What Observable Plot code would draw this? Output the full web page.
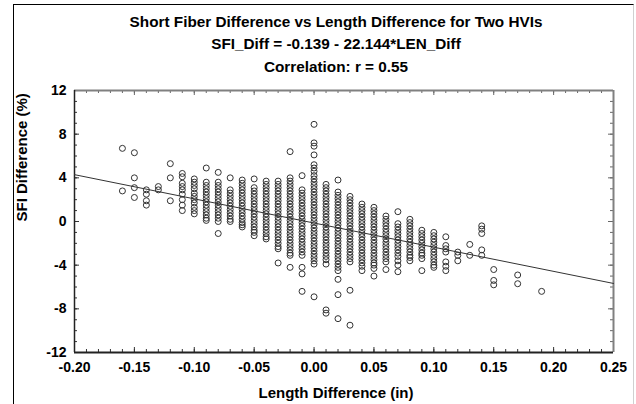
<!DOCTYPE html>
<html>
<head>
<meta charset="utf-8">
<script src="https://cdn.jsdelivr.net/npm/d3@7"></script>
<script src="https://cdn.jsdelivr.net/npm/@observablehq/plot@0.6"></script>
<style>
  html, body { margin: 0; padding: 0; background: #fff; }
  #wrap { position: relative; width: 636px; height: 404px; overflow: hidden; background: #fff; }
  #border { position: absolute; left: 13px; top: 4px; width: 619px; height: 420px;
            border-left: 1px solid #000; border-top: 1px solid #000; border-right: 1px solid #d0d0d0;
            pointer-events: none; }
</style>
</head>
<body>
<div id="wrap"><div id="border"></div></div>
<script>
// ---- Chart text ----
const titleLines = [
  "Short Fiber Difference vs Length Difference for Two HVIs",
  "SFI_Diff = -0.139 - 22.144*LEN_Diff",
  "Correlation: r = 0.55"
];
const xLabel = "Length Difference (in)";
const yLabel = "SFI Difference (%)";

// ---- Axes ----
const xDomain = [-0.20, 0.25];
const yDomain = [-12, 12];
const xTicks = [-0.20, -0.15, -0.10, -0.05, 0.00, 0.05, 0.10, 0.15, 0.20, 0.25];
const yTicks = [12, 8, 4, 0, -4, -8, -12];

// ---- Regression ----
const intercept = -0.139;
const slope = -22.144;

// ---- Data: length difference columns and SFI differences ----
const lenDiff = [-0.16, -0.15, -0.14, -0.13, -0.12, -0.11, -0.10, -0.09, -0.08, -0.07,
                 -0.06, -0.05, -0.04, -0.03, -0.02, -0.01, 0.00, 0.01, 0.02, 0.03,
                 0.04, 0.05, 0.06, 0.07, 0.08, 0.09, 0.10, 0.11, 0.12, 0.13,
                 0.14, 0.15, 0.17, 0.19];
const sfiDiff = [
  [6.7, 2.8],
  [6.3, 4.0, 3.1, 2.2],
  [2.9, 2.5, 1.9, 1.5],
  [3.2, 2.9],
  [5.3, 4.0, 1.9],
  [4.4, 4.1, 3.5, 3.2, 2.9, 2.5, 2.0, 1.5, 1.0],
  [3.9, 3.6, 3.3, 3.0, 2.6, 2.3, 2.0, 1.7, 1.3, 1.0, 0.7],
  [4.9, 3.6, 3.3, 3.0, 2.7, 2.4, 2.1, 1.8, 1.5, 1.2, 0.9, 0.6, 0.3, 0.1],
  [4.5, 3.6, 3.3, 3.0, 2.7, 2.4, 2.1, 1.8, 1.5, 1.2, 0.9, 0.6, 0.3, 0.0, -1.1],
  [4.0, 2.9, 2.6, 2.3, 2.0, 1.7, 1.4, 1.1, 0.8, 0.5, 0.2, 0.0],
  [3.8, 3.5, 3.2, 2.9, 2.6, 2.3, 2.0, 1.7, 1.4, 1.1, 0.8, 0.5, 0.2, -0.1, -0.3, -0.5],
  [3.9, 3.1, 2.8, 2.5, 2.2, 1.9, 1.6, 1.3, 1.0, 0.7, 0.4, 0.1, -0.2, -0.5, -0.8, -1.0, -1.3],
  [3.7, 3.4, 3.1, 2.8, 2.5, 2.2, 1.9, 1.6, 1.3, 1.0, 0.7, 0.4, 0.1, -0.2, -0.5, -0.8, -1.1, -1.4, -1.6],
  [3.7, 3.4, 3.1, 2.8, 2.5, 2.2, 1.9, 1.6, 1.3, 1.0, 0.7, 0.4, 0.1, -0.2, -0.5, -0.8, -1.1, -1.4, -1.7, -2.0, -2.3, -2.5, -3.8],
  [6.4, 4.0, 3.7, 3.4, 3.1, 2.8, 2.5, 2.2, 1.9, 1.6, 1.3, 1.0, 0.7, 0.4, 0.1, -0.2, -0.5, -0.8, -1.1, -1.4, -1.7, -2.0, -2.3, -2.6, -2.9, -3.1, -4.2],
  [4.2, 2.9, 2.6, 2.3, 2.0, 1.7, 1.4, 1.1, 0.8, 0.5, 0.2, -0.1, -0.4, -0.7, -1.0, -1.3, -1.6, -1.9, -2.2, -2.5, -2.8, -3.1, -4.2, -4.8, -6.4],
  [8.9, 7.2, 6.9, 6.1, 5.2, 4.9, 4.6, 4.2, 3.9, 3.6, 3.3, 3.0, 2.7, 2.4, 2.1, 1.8, 1.5, 1.2, 0.9, 0.6, 0.3, 0.0, -0.3, -0.6, -0.9, -1.2, -1.5, -1.8, -2.1, -2.4, -2.7, -3.0, -3.3, -3.6, -3.9, -6.9],
  [3.4, 3.1, 2.8, 2.5, 2.2, 1.9, 1.6, 1.3, 1.0, 0.7, 0.4, 0.1, -0.2, -0.5, -0.8, -1.1, -1.4, -1.7, -2.0, -2.3, -2.6, -2.9, -3.2, -3.5, -3.9, -8.1, -8.4],
  [3.8, 2.7, 2.4, 2.1, 1.8, 1.5, 1.2, 0.9, 0.6, 0.3, 0.0, -0.3, -0.6, -0.9, -1.2, -1.5, -1.8, -2.1, -2.4, -2.7, -3.0, -3.3, -3.6, -3.9, -4.2, -4.5, -5.3, -6.7, -8.9],
  [2.3, 2.0, 1.7, 1.4, 1.1, 0.8, 0.5, 0.2, -0.1, -0.4, -0.7, -1.0, -1.3, -1.6, -1.9, -2.2, -2.5, -2.8, -3.1, -3.4, -3.7, -6.3, -9.5],
  [1.6, 1.3, 1.0, 0.7, 0.4, 0.1, -0.2, -0.5, -0.8, -1.1, -1.4, -1.7, -2.0, -2.3, -2.6, -2.9, -3.2, -3.5, -3.8, -4.1, -4.5],
  [1.3, 1.0, 0.7, 0.4, 0.1, -0.2, -0.5, -0.8, -1.1, -1.4, -1.7, -2.0, -2.3, -2.6, -2.9, -3.2, -3.5, -3.8, -4.0, -4.3, -5.0],
  [0.5, 0.2, -0.1, -0.4, -0.7, -1.0, -1.3, -1.6, -1.9, -2.2, -2.5, -2.8, -3.1, -3.4, -3.7, -4.4],
  [0.9, -0.2, -0.5, -0.8, -1.1, -1.4, -1.7, -2.0, -2.3, -2.6, -2.9, -3.2, -3.6, -4.0, -4.6],
  [0.2, -0.1, -0.4, -0.7, -1.0, -1.3, -1.6, -1.9, -2.2, -2.5, -2.8, -3.1, -3.3, -3.6],
  [-0.8, -1.1, -1.4, -1.7, -2.0, -2.3, -2.6, -2.9, -3.1, -3.4, -4.5],
  [-1.0, -1.3, -1.6, -1.9, -2.2, -2.5, -2.8, -3.1, -3.4, -3.7, -4.0, -4.2],
  [-1.4, -2.2, -2.5, -2.8, -3.7, -4.1, -4.5],
  [-2.8, -3.1, -3.6],
  [-2.1, -3.1],
  [-0.4, -0.7, -1.1, -2.6, -3.1],
  [-4.4, -5.4, -5.8],
  [-4.9, -5.7],
  [-6.4]
];

const points = lenDiff.flatMap((x, i) => sfiDiff[i].map(y => ({x, y})));
const regLine = xDomain.map(x => ({x, y: intercept + slope * x}));

const minorX = d3.range(-20, 26).map(v => v / 100);
const minorY = d3.range(-12, 13);

const mL = 74, mR = 23, mT = 90, mB = 52, W = 636, H = 404;
const pw = W - mL - mR, ph = H - mT - mB;
const font = "'Liberation Sans', Arial, sans-serif";
const tickCol = "#333";
const cx = -8; // horizontal offset of centred titles
const txt = {text: d => d, fontWeight: "bold", fill: "#000", lineAnchor: "middle"};

const chart = Plot.plot({
  width: W, height: H,
  marginLeft: mL, marginRight: mR, marginTop: mT, marginBottom: mB,
  x: {domain: xDomain},
  y: {domain: yDomain},
  style: {fontFamily: font, background: "white", color: "#000", overflow: "visible"},
  marks: [
    // inward minor ticks
    Plot.ruleX(minorX, {stroke: tickCol, insetTop: ph - 3}),
    Plot.ruleX(minorX, {stroke: "#666", insetBottom: ph - 3}),
    Plot.ruleY(minorY, {stroke: tickCol, insetRight: pw - 3}),
    Plot.ruleY(minorY, {stroke: "#666", insetLeft: pw - 3}),
    // inward major ticks
    Plot.ruleX(xTicks, {stroke: tickCol, insetTop: ph - 5}),
    Plot.ruleX(xTicks, {stroke: "#666", insetBottom: ph - 5}),
    Plot.ruleY(yTicks, {stroke: tickCol, insetRight: pw - 5}),
    Plot.ruleY(yTicks, {stroke: "#666", insetLeft: pw - 5}),
    // frame: top/right grey, left/bottom dark
    Plot.ruleY([yDomain[1]], {stroke: "#808080", strokeWidth: 2}),
    Plot.ruleX([xDomain[1]], {stroke: "#808080", strokeWidth: 2}),
    Plot.ruleX([xDomain[0]], {stroke: "#222", strokeWidth: 1.5}),
    Plot.ruleY([yDomain[0]], {stroke: "#222", strokeWidth: 2}),
    // tick labels
    Plot.axisX(xTicks, {tickSize: 0, tickPadding: 10, tickFormat: d => d.toFixed(2), label: null,
      fontSize: 14, fontWeight: "bold", fill: "#000"}),
    Plot.axisY(yTicks, {tickSize: 0, tickPadding: 8, tickFormat: d => String(d), label: null,
      fontSize: 14, fontWeight: "bold", fill: "#000"}),
    // data
    Plot.line(regLine, {x: "x", y: "y", stroke: "#333", strokeWidth: 1}),
    Plot.dot(points, {x: "x", y: "y", r: 3, stroke: "#333", strokeWidth: 1, fill: "none"}),
    // axis titles
    Plot.text([xLabel], {...txt, frameAnchor: "bottom", dx: cx, dy: 41, fontSize: 15}),
    Plot.text([yLabel], {...txt, frameAnchor: "left", rotate: -90, dx: -52, fontSize: 15}),
    // chart titles
    Plot.text([titleLines[0]], {...txt, frameAnchor: "top", dx: cx, dy: -68.5, fontSize: 15.3}),
    Plot.text([titleLines[1]], {...txt, frameAnchor: "top", dx: cx, dy: -46, fontSize: 15.3}),
    Plot.text([titleLines[2]], {...txt, frameAnchor: "top", dx: cx, dy: -23.5, fontSize: 15.3})
  ]
});
document.getElementById("wrap").insertBefore(chart, document.getElementById("border"));
</script>
</body>
</html>
